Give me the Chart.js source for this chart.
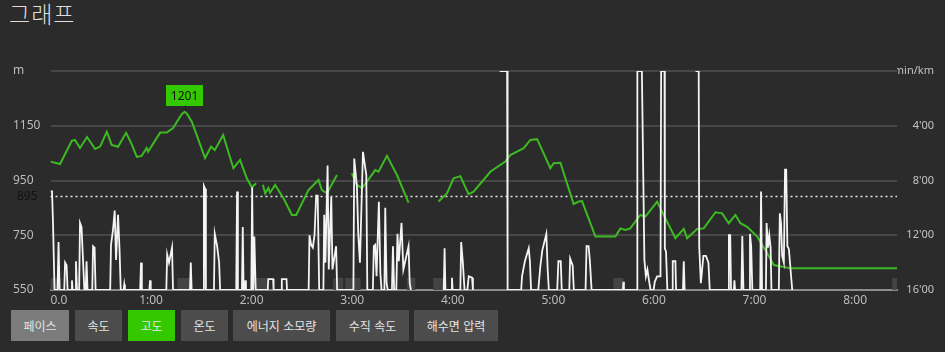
<!DOCTYPE html>
<html lang="ko">
<head>
<meta charset="UTF-8">
<title>그래프</title>
<style>
    body {
        margin: 0;
        width: 945px;
        height: 352px;
        overflow: hidden;
        background: #2b2b2b;
        font-family: "Noto Sans CJK KR", "Noto Sans", sans-serif;
    }
    #title {
        position: absolute;
        left: 9px;
        top: -4px;
        font-size: 23px;
        letter-spacing: 1px;
        font-weight: 300;
        color: #dedede;
    }
    #container {
        position: absolute;
        left: 0;
        top: 0;
        width: 945px;
        height: 310px;
    }
    .btn {
        position: absolute;
        top: 310px;
        height: 31px;
        line-height: 31px;
        text-align: center;
        font-size: 12px;
        color: #e4e4e4;
        background: #4c4c4c;
    }
</style>
</head>
<body>
<div id="title">그래프</div>
<div id="container">
    <canvas id="canvas" width="945" height="310"></canvas>
</div>
<div class="btn" style="left:11px;width:58px;background:#7b7b7b;">페이스</div>
<div class="btn" style="left:75px;width:47px;">속도</div>
<div class="btn" style="left:128px;width:47px;background:#33c800;">고도</div>
<div class="btn" style="left:181px;width:47px;">온도</div>
<div class="btn" style="left:233px;width:97px;">에너지 소모량</div>
<div class="btn" style="left:336px;width:73px;">수직 속도</div>
<div class="btn" style="left:414px;width:84px;">해수면 압력</div>

<script src="https://cdn.jsdelivr.net/npm/chart.js@4.4.0/dist/chart.umd.min.js"></script>
<script>
    // x axis: minutes since start
    const xTickMinutes = [0, 60, 120, 180, 240, 300, 360, 420, 480];
    const xTickLabels = ["0.0", "1:00", "2:00", "3:00", "4:00", "5:00", "6:00", "7:00", "8:00"];

    // elevation (m), null = no data
    const elevMin = [
        0, 5.7, 12.7, 14.6, 17.6, 21.8, 26.6, 29.6, 33.6, 36.5,
        40.3, 45.1, 48.1, 51.5, 54.4, 57.4, 58.2, 65.4, 69.4, 73.1,
        78.3, 80, 81.5, 84.3, 92.2, 95.8, 98, 103, 109.1, 113.1,
        117.1, 120.1, 122.7, 124.5, 126.7, 128.1, 130, 131, 134, 139,
        144, 146.6, 153.9, 159.9, 161.9, 164.9, 170.9, 175, 179.8, 182.8,
        185.8, 188.8, 193.7, 195.7, 200.7, 206.7, 213.6, 222, 231.5, 236.5,
        240.5, 244.5, 249.4, 252.4, 262.4, 271.3, 274.3, 282.3, 286.3, 290.3,
        298.2, 300.2, 304.2, 312.1, 315.1, 317.1, 325.1, 337, 340, 343,
        345.9, 351.9, 354.9, 361.9, 365.8, 372.8, 377.8, 379.8, 385.8, 389.7,
        396.7, 400.7, 404.6, 408.6, 411.6, 415.6, 421.6, 427.6, 431.5, 441.5,
        505
    ];
    const elevM = [
        1019, 1010, 1095, 1098, 1069, 1109, 1065, 1074, 1128, 1080,
        1073, 1124, 1087, 1036, 1040, 1069, 1055, 1125, 1125, 1142,
        1192, 1201, 1193, 1165, 1032, 1074, 1061, 1116, 995, 1025,
        958, 925, 940, null, 934, 903, 923, 905, 934, 885,
        824, 824, 915, 952, 915, 903, 970, null, 976, 934,
        922, 946, 988, 982, 1040, 970, 869, null, 873, 903,
        958, 966, 900, 909, 982, 1019, 1043, 1068, 1098, 1101,
        995, 1013, 1015, 864, 873, 875, 745, 745, 775, 769,
        775, 824, 818, 873, 824, 739, 773, 739, 773, 775,
        834, 830, 794, 824, 794, 781, 745, 684, 641, 629,
        629
    ];

    // pace (min/km), 16 = bottom of scale, null = no data
    const paceMin = [
        0, 0.9, 1.5, 2.4,
        4.2, 4.8, 5.4,
        8.2, 8.7, 9.6, 10.2,
        12.4, 12.8, 13.2,
        14.7, 15.2, 15.8,
        17.1, 17.6, 18.5, 19.4, 20.2,
        21, 21.5, 22.1,
        24.9, 25.4, 26.3, 26.9,
        35.6, 36.1, 37.3, 38.3, 39.1, 40.3, 41.2, 41.9,
        43.6, 44, 44.4,
        53.5, 54, 54.5,
        59, 59.4, 59.8,
        69.1, 69.6, 70.7, 72.5, 73.1,
        83.2, 83.7, 84.2,
        91, 91.5, 92.2, 92.7,
        97.5, 98, 99.4, 100.6, 101.2,
        110.8, 111.3, 111.8,
        114.2, 114.7, 115.2,
        116, 116.3, 116.6,
        119.8, 120.3, 120.9, 121.6, 122.4,
        129.6, 129.9, 132.8, 133.1,
        137.7, 138, 140.8, 141.1,
        154, 154.5, 155.5, 156.5, 157.5, 158.5, 159.4, 160.3,
        162.8, 163.3, 164, 165.3, 166, 167.5, 168.2, 170.4, 171,
        180.7, 181.2, 182.8, 183.6, 184.6, 186.4, 188.4, 189,
        192.3, 192.9, 193.7, 194.5, 195.9, 196.8, 197.5,
        199.2, 199.7, 200.5, 201.2,
        203.7, 204.3, 205,
        206.3, 207, 207.8, 209.4, 210.5, 213.6, 214.3, 215,
        222,
        234.6, 235.1, 235.6,
        239.1, 239.5, 239.9,
        244.5, 245, 246, 247,
        248.7, 249.5, 251.5, 252,
        260,
        268, 272.4, 272.7,
        280.8, 281.3, 283, 285.3, 286, 286.7,
        291, 292.2, 293.4, 295.8, 296.6, 297.3,
        302.3, 303, 304.4, 305,
        309.5, 310, 311.5, 312.2,
        319.2, 319.8, 321, 321.8, 322.8,
        341.5, 341.8, 342.1,
        349.9, 350.1, 352.8, 354.3, 355.2, 356.1, 357.3, 358,
        359.8, 360.5, 361.9, 363.9, 364.3, 366.3, 366.5, 367.2, 368,
        371, 371.2, 372.8, 373.2,
        377.3, 377.8, 378.3,
        384, 384.8, 386.7, 387, 388, 389.5, 391, 392.5, 393.3,
        404.2, 404.7, 405.5, 406,
        407.7, 408, 408.4,
        412.2, 412.7, 413.4,
        416.8, 417.3, 418, 418.7,
        423.4, 423.9, 424.5,
        426.8, 427.2, 428, 428.8, 429.6, 430.1,
        434.5, 435.1, 435.8, 436.5, 437.5, 438.2, 438.9, 439.6, 440.5, 442.5
    ];
    const paceVal = [
        8.8, 8.8, 11.1, 16,
        16, 12.5, 16,
        16, 14.0, 14.2, 16,
        16, 15.3, 16,
        16, 13.9, 16,
        16, 11.1, 11.4, 13.8, 16,
        16, 13.9, 16,
        16, 12.8, 12.9, 16,
        16, 12.7, 11.6, 10.2, 13.8, 10.5, 13.1, 16,
        16, 15.6, 16,
        16, 14.0, 16,
        16, 15.3, 16,
        16, 13.4, 14, 12.9, 16,
        16, 14.0, 16,
        16, 8.4, 8.6, 16,
        16, 11.9, 12.8, 14, 16,
        16, 8.8, 16,
        16, 11.4, 16,
        16, 15.3, 16,
        16, 8.5, 16, 12.1, 16,
        16, 15.2, 15.2, 16,
        16, 15.2, 15.2, 16,
        16, 12, 12.7, 12.9, 12, 9.1, 9.1, 16,
        16, 10.5, 14, 6.9, 14.5, 9.2, 14.5, 12.8, 16,
        16, 6.4, 8.45, 11.9, 14, 5.9, 7.6, 16,
        16, 12.8, 12.7, 15, 9.55, 14.8, 16,
        16, 10.0, 15.5, 16,
        16, 12.8, 16,
        16, 11.9, 13.9, 11.1, 14.5, 12.8, 15.5, 16,
        null,
        16, 12.95, 16,
        16, 15.1, 16,
        16, 12.5, 14, 16,
        16, 15.0, 15.1, 16,
        null,
        0, 0, 16,
        16, 15, 13.9, 12.95, 13.9, 16,
        16, 14.3, 13.1, 11.9, 14.5, 16,
        16, 13.9, 13.9, 16,
        16, 13.7, 14.2, 16,
        16, 12.8, 12.8, 13.9, 16,
        16, 15.4, 16,
        16, 0, 0, 13.8, 15.0, 14.5, 15.5, 16,
        16, 15.4, 15.0, 15.0, 0, 0, 12.95, 13.2, 16,
        16, 13.9, 13.9, 16,
        16, 13.9, 16,
        null, 0, 0, 12.8, 15.5, 13.5, 13.5, 14, 16,
        16, 12, 12, 16,
        16, 15.3, 16,
        16, 12.05, 16,
        16, 11.9, 12.8, 16,
        16, 8.8, 16,
        16, 11.1, 12.9, 12, 12.9, 16,
        16, 10.4, 11.1, 13.5, 14, 7.2, 7.2, 12.8, 13, 16
    ];

    // pauses (minutes)
    const pauseStart = [0.1, 75.7, 120.1, 168.6, 175.8, 212.6, 228.3, 335.8, 502.2];
    const pauseEnd = [6.4, 84.1, 129.1, 174.6, 185, 217.6, 234.3, 341.8, 505];

    const refAltitude = 895;

    const FONT = '"Noto Sans", "Noto Sans CJK KR", sans-serif';

    const toPoints = (xs, ys) => xs.map((x, i) => ({x: x, y: ys[i]}));

    // reference line, its label and the pause markers, under the lines
    const underlayPlugin = {
        id: "underlay",
        beforeDatasetsDraw(chart) {
            const {ctx, chartArea, scales} = chart;
            ctx.save();

            ctx.fillStyle = "#444444";
            const boxTop = scales.pace.getPixelForValue(15.12);
            const boxBottom = scales.pace.getPixelForValue(16);
            pauseStart.forEach((s, i) => {
                const x0 = scales.x.getPixelForValue(s);
                const x1 = scales.x.getPixelForValue(pauseEnd[i]);
                ctx.fillRect(x0, boxTop, x1 - x0, boxBottom - boxTop);
            });

            const y = Math.round(scales.elev.getPixelForValue(refAltitude)) + 0.5;
            ctx.strokeStyle = "#e8e8e8";
            ctx.lineWidth = 1.5;
            ctx.setLineDash([2, 3]);
            ctx.beginPath();
            ctx.moveTo(chartArea.left, y);
            ctx.lineTo(chartArea.right, y);
            ctx.stroke();
            ctx.setLineDash([]);
            ctx.fillStyle = "#121212";
            ctx.font = "12px " + FONT;
            ctx.textAlign = "left";
            ctx.textBaseline = "middle";
            ctx.fillText(String(refAltitude), 17, y);
            ctx.restore();
        }
    };

    const labelsPlugin = {
        id: "extraLabels",
        afterDraw(chart) {
            const {ctx, scales} = chart;
            ctx.save();
            // x tick labels, the first one starts at the axis origin
            ctx.font = "12px " + FONT;
            ctx.fillStyle = "#bcbcbc";
            ctx.textBaseline = "middle";
            xTickMinutes.forEach((m, i) => {
                const px = scales.x.getPixelForValue(m);
                ctx.textAlign = i === 0 ? "left" : "center";
                ctx.fillText(xTickLabels[i], px, 301);
            });

            // max elevation tag
            let best = 0;
            elevM.forEach((v, i) => { if (v !== null && v > elevM[best]) best = i; });
            const px = scales.x.getPixelForValue(elevMin[best]);
            const py = scales.elev.getPixelForValue(elevM[best]);
            const w = 37, h = 21;
            const top = py - 6 - h;
            ctx.fillStyle = "#33c800";
            ctx.fillRect(Math.round(px - w / 2), Math.round(top), w, h);
            ctx.strokeStyle = "#1a1a1a";
            ctx.lineWidth = 1;
            ctx.beginPath();
            ctx.moveTo(Math.round(px) + 0.5, top + h);
            ctx.lineTo(Math.round(px) + 0.5, py - 1);
            ctx.stroke();
            ctx.fillStyle = "#111";
            ctx.textAlign = "center";
            ctx.fillText(String(elevM[best]), px, top + h / 2 + 1);
            ctx.restore();
        }
    };

    const canvas = document.getElementById("canvas");
    const ctx = canvas.getContext("2d");

    const chart = new Chart(ctx, {
        type: "line",
        data: {
            datasets: [
                {
                    label: "페이스",
                    data: toPoints(paceMin, paceVal),
                    yAxisID: "pace",
                    borderColor: "#f4f4f4",
                    borderWidth: 1.8,
                    pointRadius: 0,
                    tension: 0,
                    spanGaps: false
                },
                {
                    label: "고도",
                    data: toPoints(elevMin, elevM),
                    yAxisID: "elev",
                    borderColor: "#3dba22",
                    borderWidth: 2,
                    pointRadius: 0,
                    tension: 0,
                    spanGaps: false
                }
            ]
        },
        options: {
            responsive: false,
            animation: false,
            events: [],
            layout: {padding: {left: 13, right: 11, top: 71, bottom: 0}},
            plugins: {
                legend: {display: false},
                tooltip: {enabled: false},
                title: {display: false}
            },
            scales: {
                x: {
                    type: "linear",
                    min: 0,
                    max: 505,
                    ticks: {display: false},
                    grid: {display: false},
                    border: {display: true, color: "#8c8c8c", width: 2},
                    afterFit(s) { s.height = 20; }
                },
                elev: {
                    position: "left",
                    min: 550,
                    max: 1350,
                    ticks: {
                        stepSize: 200,
                        color: "#bcbcbc",
                        font: {size: 12, family: FONT},
                        crossAlign: "far",
                        padding: 0,
                        callback: v => v === 1350 ? "m" : v
                    },
                    grid: {color: "#474747", lineWidth: 2, drawTicks: false},
                    border: {display: false},
                    afterFit(s) { s.width = 37.5; }
                },
                pace: {
                    position: "right",
                    reverse: true,
                    min: 0,
                    max: 16,
                    z: 1,
                    ticks: {
                        stepSize: 4,
                        color: "#c4c4c4",
                        font: {size: 11, family: FONT},
                        crossAlign: "far",
                        padding: 0,
                        callback: v => v === 0 ? "min/km" : v + "'00"
                    },
                    grid: {display: false},
                    border: {display: false},
                    afterFit(s) { s.width = 37; }
                }
            }
        },
        plugins: [underlayPlugin, labelsPlugin]
    });
</script>
</body>
</html>
